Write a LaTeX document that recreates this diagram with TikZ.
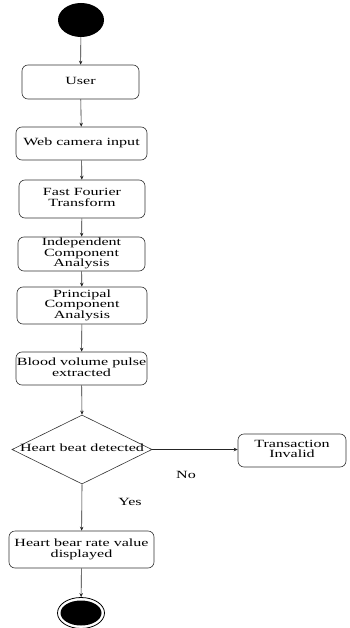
\documentclass[tikz,border=0pt]{standalone}
\usepackage{fontspec}
\usepackage{graphicx}
\setmainfont{Liberation Serif}
\usetikzlibrary{shapes.geometric,arrows.meta}
% horizontally widened label text, one or more centred lines
\newcommand{\widetext}[1]{\scalebox{1.46}[1]{\begin{tabular}{@{}c@{}}#1\end{tabular}}}
\begin{document}
\begin{tikzpicture}[x=1pt,y=-1pt,
  every node/.style={font=\fontsize{11}{11.5}\selectfont, inner sep=0pt},
  stepbox/.style={draw=black!80, line width=0.6pt, rounded corners=6pt, align=center},
  flow/.style={draw=black!85, line width=0.6pt, -{Stealth[length=4pt,width=3.5pt]}}]
\useasboundingbox (0,0) rectangle (349,628);
\renewcommand{\arraystretch}{0.85}

% initial state
\node (start) [ellipse, fill=black, minimum width=46pt, minimum height=34pt] at (81,20) {};

% activity boxes
\node (user) [stepbox, minimum width=117pt, minimum height=34pt] at (80.5,82) {\widetext{User}};
\node (cam)  [stepbox, minimum width=131pt, minimum height=33pt] at (81.5,143.5) {\widetext{Web camera input}};
\node (fft)  [stepbox, minimum width=126pt, minimum height=38pt] at (82,199) {\widetext{Fast Fourier\\Transform}};
\node (ica)  [stepbox, minimum width=127pt, minimum height=34pt] at (81.5,254) {\widetext{Independent\\Component\\Analysis}};
\node (pca)  [stepbox, minimum width=130pt, minimum height=37pt] at (82,305.5) {\widetext{Principal\\Component\\Analysis}};
\node (bvp)  [stepbox, minimum width=131pt, minimum height=33pt] at (81.5,368.5) {\widetext{Blood volume pulse\\extracted}};

% decision
\node (dec) [diamond, draw=black!80, line width=0.6pt, minimum width=140pt, minimum height=69pt, aspect=2] at (82,449.5) {};
\node (dectext) at (dec.center) {\widetext{Heart beat detected}};

\node (inv) [stepbox, minimum width=108pt, minimum height=33pt] at (292,450.5) {\widetext{Transaction\\Invalid}};
\node (hr)  [stepbox, minimum width=145pt, minimum height=37pt] at (81.5,549.5) {\widetext{Heart bear rate value\\displayed}};

% final state
\node (stop) [ellipse, draw=black, line width=0.8pt, minimum width=47pt, minimum height=31pt] at (81,613) {};
\node (stopin) [ellipse, fill=black, minimum width=41pt, minimum height=25pt] at (81,613) {};

% transitions
\draw[flow] (start) -- (user);
\draw[flow] (user) -- (cam);
\draw[flow] (cam) -- (fft);
\draw[flow] (fft) -- (ica);
\draw[flow] (ica) -- (pca);
\draw[flow] (pca) -- (bvp);
\draw[flow] (bvp) -- (dec.north);
\draw[flow] (dec.east) -- (inv.west |- dec.east);
\draw[flow] (dec.south) -- (hr);
\draw[flow] (hr) -- (stop);

\node (no)  at (186,476) {\widetext{No}};
\node (yes) at (130,503) {\widetext{Yes}};
\end{tikzpicture}
\end{document}
